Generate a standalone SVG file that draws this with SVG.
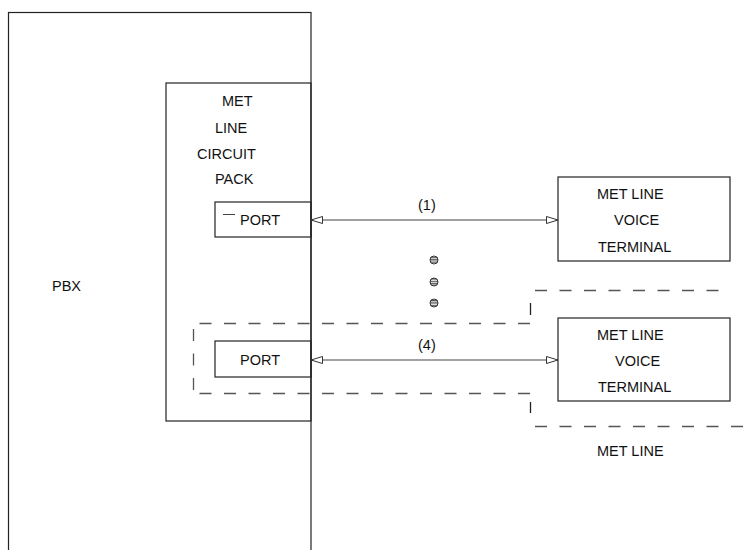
<svg xmlns="http://www.w3.org/2000/svg" width="746" height="550" viewBox="0 0 746 550">
<style>
.box{fill:none;stroke:#222;stroke-width:1.2}
.t{font-family:"Liberation Sans",Arial,sans-serif;font-size:14.5px;fill:#111}
.ln{stroke:#444;stroke-width:1.2;fill:none}
.dash{stroke:#555;stroke-width:1.3;fill:none;stroke-dasharray:12 12.5}
.dot{fill:url(#stripes);stroke:#333;stroke-width:1}
</style>
<defs>
<marker id="ah" viewBox="0 0 12 8" refX="12" refY="4" markerWidth="12" markerHeight="8" markerUnits="userSpaceOnUse" orient="auto-start-reverse">
<path d="M0.5,0.5 L12,4 L0.5,7.5 Z" fill="#fff" stroke="#333" stroke-width="1"/>
</marker>
<pattern id="stripes" width="4" height="2.4" patternUnits="userSpaceOnUse">
<rect width="4" height="2.4" fill="#eee"/>
<rect width="4" height="1.2" fill="#555"/>
</pattern>
</defs>
<rect width="746" height="550" fill="#fff"/>
<g id="pbx">
<rect class="box" x="8.5" y="12.5" width="302.5" height="560"/>
<text class="t" x="52" y="291">PBX</text>
</g>
<g id="circuit-pack">
<rect class="box" x="166" y="83" width="145" height="338"/>
<text class="t" x="222" y="106">MET</text>
<text class="t" x="215" y="133">LINE</text>
<text class="t" x="197" y="159">CIRCUIT</text>
<text class="t" x="215" y="184">PACK</text>
</g>
<g id="port1">
<rect class="box" x="215" y="202" width="96" height="35"/>
<line x1="223" y1="214.5" x2="235" y2="214.5" stroke="#444" stroke-width="1"/>
<text class="t" x="240" y="225">PORT</text>
</g>
<g id="port4">
<rect class="box" x="215" y="341" width="96" height="36"/>
<text class="t" x="240" y="365">PORT</text>
</g>
<g id="terminal1">
<rect class="box" x="558" y="177" width="172" height="84"/>
<text class="t" x="597" y="199">MET LINE</text>
<text class="t" x="614" y="225">VOICE</text>
<text class="t" x="598" y="252">TERMINAL</text>
</g>
<g id="terminal2">
<rect class="box" x="558" y="318" width="172" height="83"/>
<text class="t" x="597" y="340">MET LINE</text>
<text class="t" x="615" y="366">VOICE</text>
<text class="t" x="598" y="392">TERMINAL</text>
</g>
<g id="met-line-boundary">
<path class="dash" d="M535,290.5 H722"/>
<line x1="530.5" y1="303" x2="530.5" y2="315" stroke="#222" stroke-width="1.3"/>
<path class="dash" d="M530,323.5 H193.5"/>
<path class="dash" d="M193.5,329 V395"/>
<path class="dash" d="M530,393.5 H193.5"/>
<line x1="530.5" y1="402" x2="530.5" y2="413" stroke="#222" stroke-width="1.3"/>
<path class="dash" d="M535,426.5 H746"/>
<text class="t" x="597" y="456">MET LINE</text>
</g>
<g id="ellipsis">
<circle class="dot" cx="434" cy="260" r="4"/>
<circle class="dot" cx="434" cy="282" r="4"/>
<circle class="dot" cx="434" cy="303" r="4"/>
</g>
<g id="connectors">
<line class="ln" x1="311" y1="220" x2="558" y2="220" marker-start="url(#ah)" marker-end="url(#ah)"/>
<text class="t" x="418" y="210">(1)</text>
<line class="ln" x1="311" y1="360" x2="558" y2="360" marker-start="url(#ah)" marker-end="url(#ah)"/>
<text class="t" x="418" y="350">(4)</text>
</g>
</svg>
